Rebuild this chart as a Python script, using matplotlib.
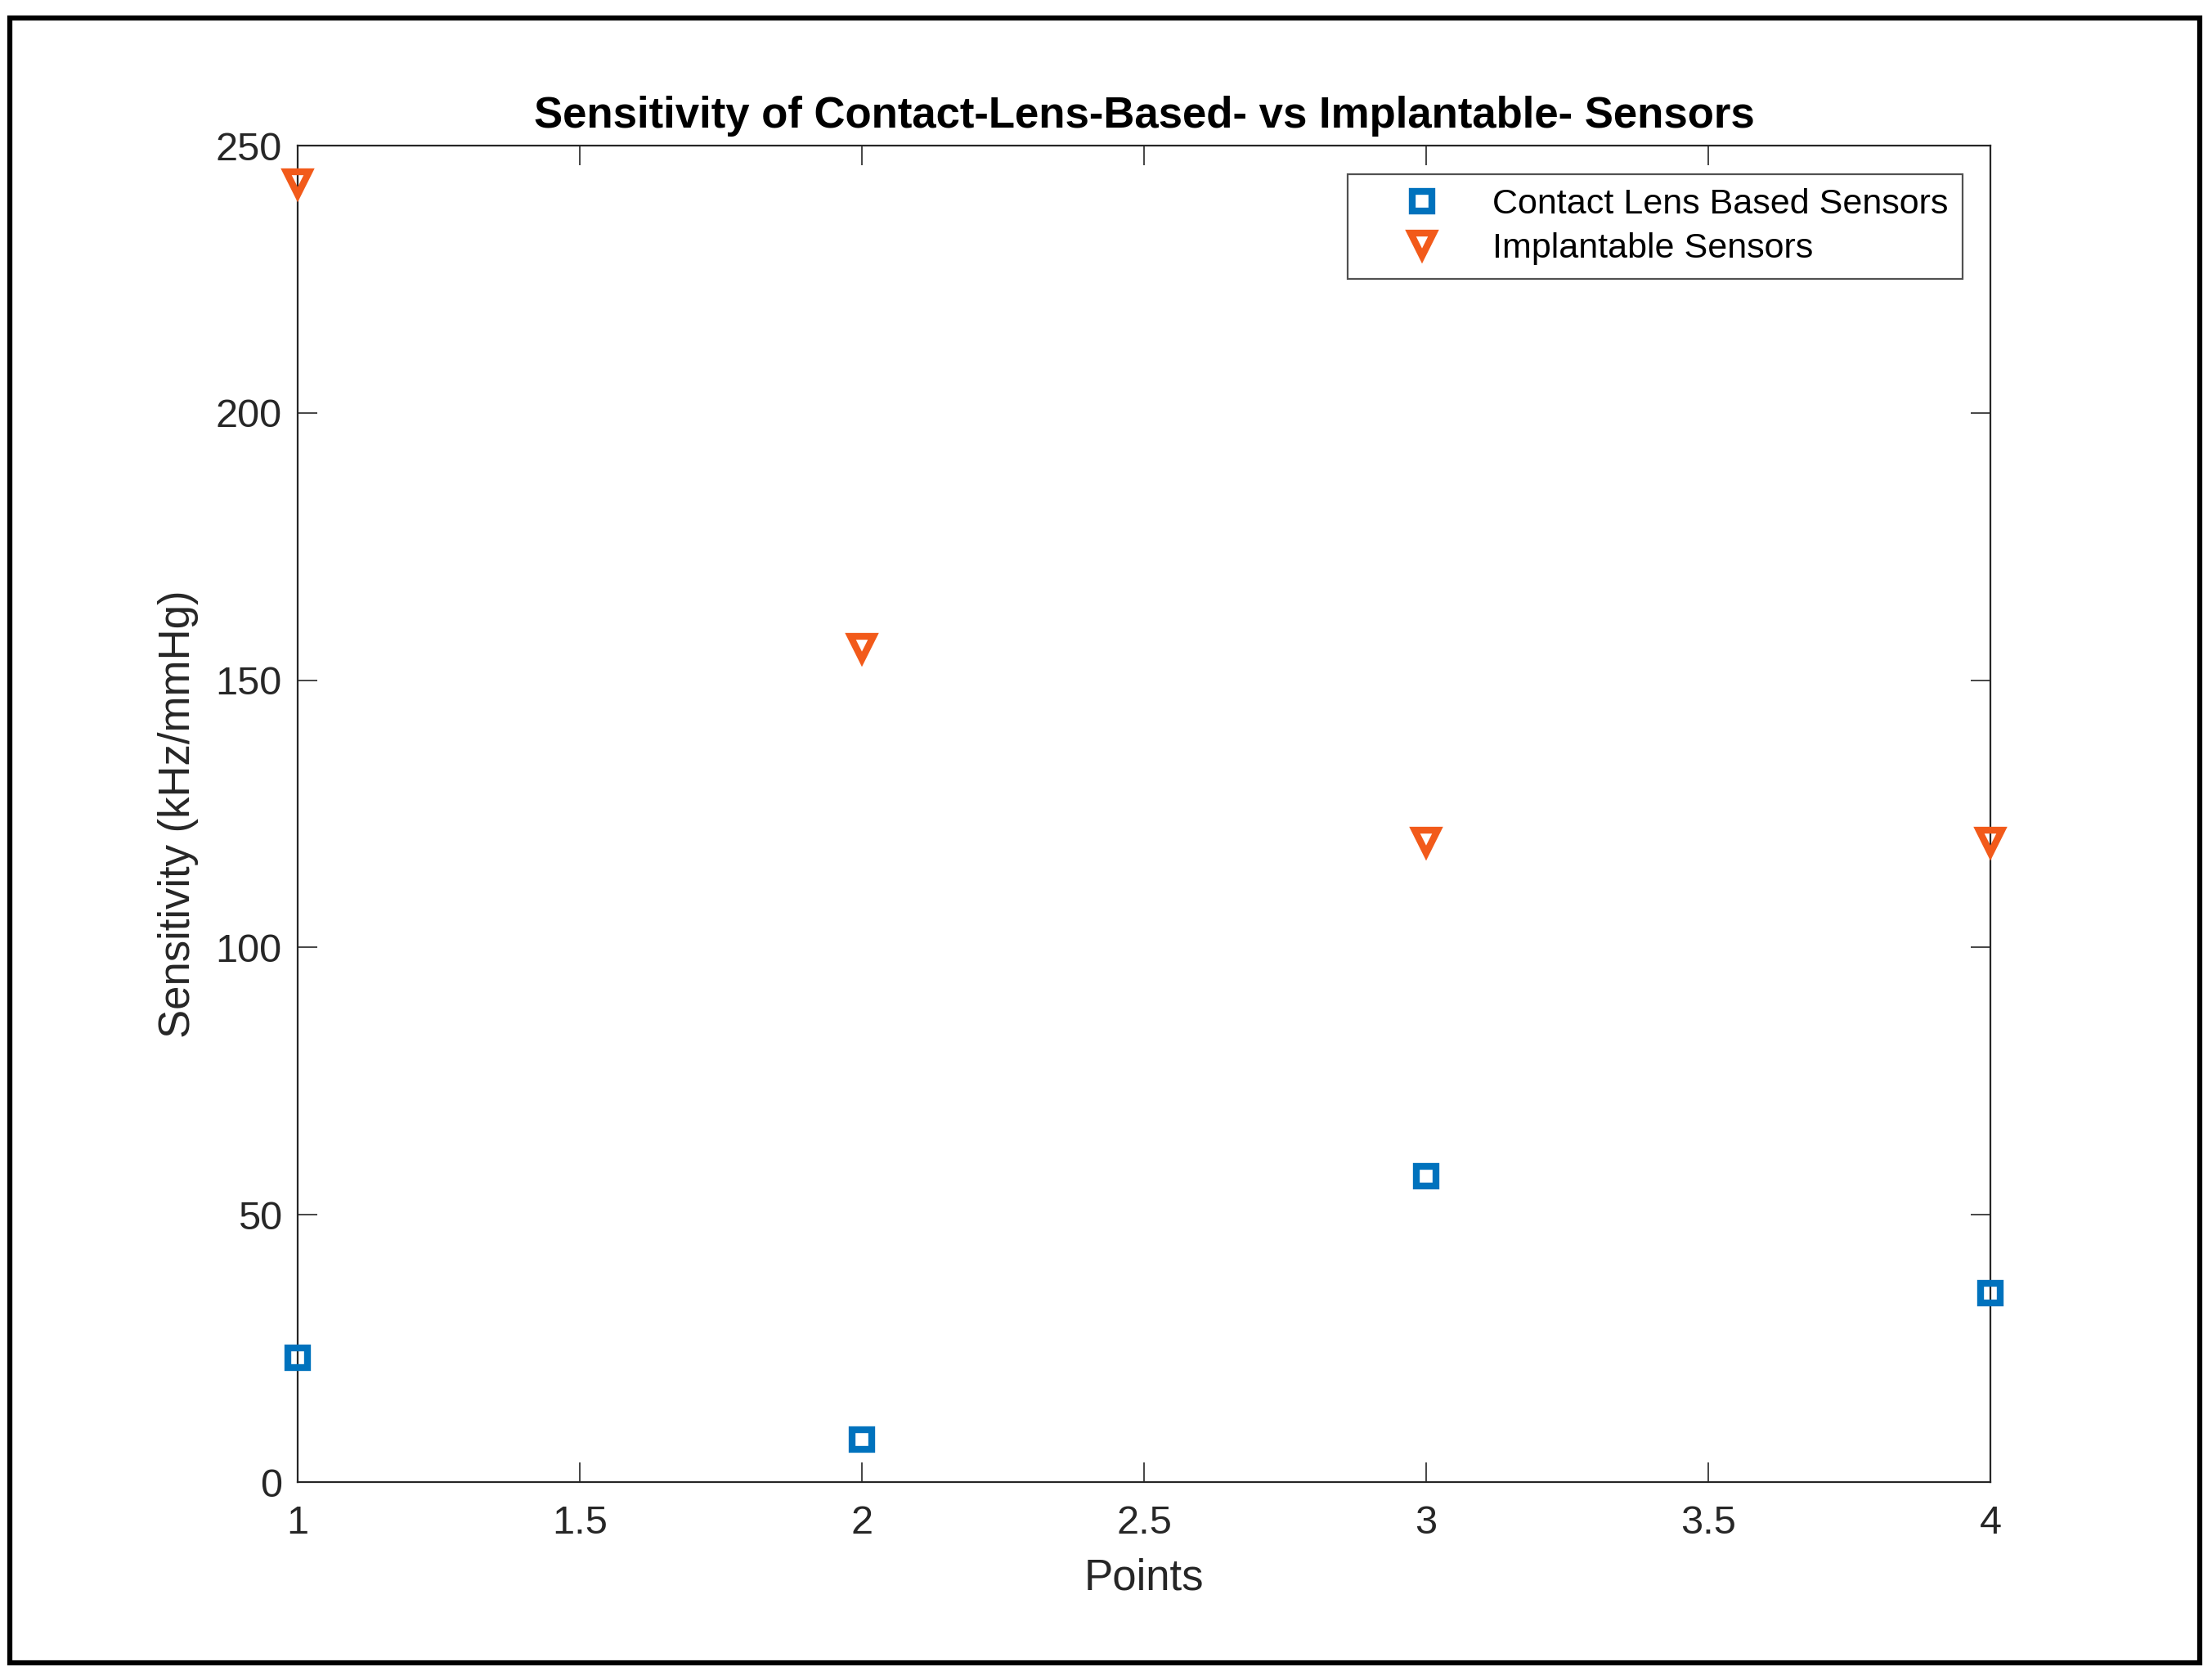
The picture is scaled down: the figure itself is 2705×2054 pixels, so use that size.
import numpy as np
import matplotlib
matplotlib.use("Agg")
import matplotlib.pyplot as plt
from matplotlib.patches import Rectangle

# data
points = [1, 2, 3, 4]
contact_lens = [23.2, 7.9, 57.3, 35.4]
implantable = [242.9, 156.0, 119.8, 119.8]

xticks = [1, 1.5, 2, 2.5, 3, 3.5, 4]
xtick_labels = ["1", "1.5", "2", "2.5", "3", "3.5", "4"]
yticks = [0, 50, 100, 150, 200, 250]

plt.rcParams['font.family'] = ['Liberation Sans', 'DejaVu Sans']

fig = plt.figure(figsize=(27.05, 20.54), dpi=100)
ax = fig.add_axes([0.1346, 0.1178, 0.7652, 0.7955])

ax.plot(points, contact_lens, linestyle='none', marker='s', markersize=17,
        markerfacecolor='none', markeredgecolor='#0072BD', markeredgewidth=6,
        label='Contact Lens Based Sensors', clip_on=False, zorder=5)
ax.plot(points, implantable, linestyle='none', marker='v', markersize=20,
        markerfacecolor='none', markeredgecolor='#F25A1A', markeredgewidth=6,
        label='Implantable Sensors', clip_on=False, zorder=5)

ax.set_xlim(1, 4)
ax.set_ylim(0, 250)
ax.set_xticks(xticks)
ax.set_xticklabels(xtick_labels)
ax.set_yticks(yticks)
ax.tick_params(direction='in', length=17, width=1.2, top=True, right=True,
               labelsize=35, colors='#262626')
ax.tick_params(axis='x', pad=20)
ax.tick_params(axis='y', pad=14)
for sp in ax.spines.values():
    sp.set_linewidth(1.6)
    sp.set_color('#262626')

ax.set_title("Sensitivity of Contact-Lens-Based- vs Implantable- Sensors",
             fontsize=38, fontweight='bold', pad=16)
ax.set_xlabel("Points", fontsize=38, color='#262626', labelpad=14)
ax.set_ylabel("Sensitivity (kHz/mmHg)", fontsize=38, color='#262626', labelpad=15)

leg = ax.legend(loc='upper right', fontsize=31, frameon=True, fancybox=False,
                edgecolor='#262626', borderpad=0.4, handlelength=3.4,
                handletextpad=0.3, labelspacing=0.32, borderaxespad=0.8)
leg.get_frame().set_linewidth(1.6)

# outer frame around the whole picture
fig.patches.append(Rectangle((12 / 2705, 1 - 2033 / 2054), (2690 - 12) / 2705,
                             (2033 - 22) / 2054, transform=fig.transFigure,
                             fill=False, edgecolor='black', linewidth=4.5))

fig.savefig("out.png", dpi=100)
